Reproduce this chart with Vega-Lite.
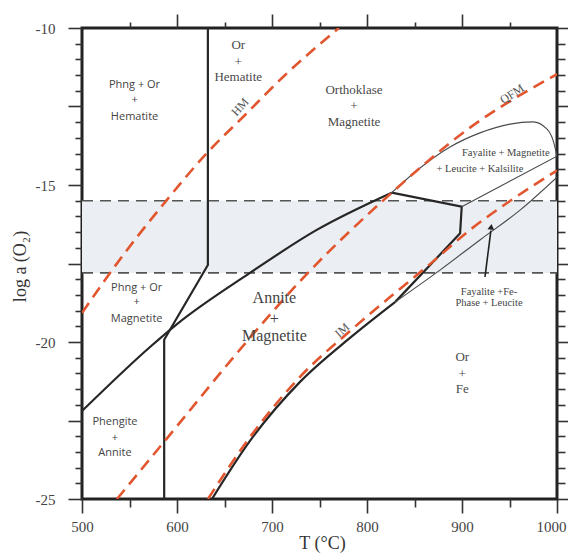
{
  "$schema": "https://vega.github.io/schema/vega-lite/v6.json",
  "width": 475,
  "height": 471,
  "autosize": {"type": "none"},
  "padding": {"left": 82, "top": 28, "right": 11, "bottom": 57},
  "background": "#ffffff",
  "config": {
    "view": {"stroke": "#222222", "strokeWidth": 3},
    "axis": {
      "domain": false, "grid": false, "tickColor": "#333333", "tickWidth": 1.6,
      "labelFont": "Liberation Serif", "labelFontSize": 15, "labelColor": "#444444",
      "titleFont": "Liberation Serif", "titleFontSize": 18, "titleFontWeight": "normal", "titleColor": "#333333",
      "labelOverlap": false, "labelFlush": false
    }
  },
  "datasets": {
    "band": [{"T": 500, "T2": 1000, "v": -15.5, "v2": -17.8}],
    "hdash": [
      {"id": "A", "T": 500, "v": -15.5}, {"id": "A", "T": 1000, "v": -15.5},
      {"id": "B", "T": 500, "v": -17.8}, {"id": "B", "T": 1000, "v": -17.8}
    ],
    "bpoly": [
      {"id": "V", "i": 0, "T": 632.5, "v": -10},
      {"id": "V", "i": 1, "T": 632.5, "v": -17.55},
      {"id": "V", "i": 2, "T": 586.5, "v": -19.93},
      {"id": "V", "i": 3, "T": 586.5, "v": -25},
      {"id": "K", "i": 0, "T": 826.0, "v": -15.245},
      {"id": "K", "i": 1, "T": 899.7, "v": -15.69},
      {"id": "K", "i": 2, "T": 898.0, "v": -16.54},
      {"id": "K", "i": 3, "T": 829.5, "v": -18.73}
    ],
    "bcurve": [
      {"id": "B1", "T": 500, "v": -22.2},
      {"id": "B1", "T": 571.6, "v": -20.16},
      {"id": "B1", "T": 600, "v": -19.43},
      {"id": "B1", "T": 676.8, "v": -17.8},
      {"id": "B1", "T": 747.1, "v": -16.43},
      {"id": "B1", "T": 826.0, "v": -15.245},
      {"id": "B3", "T": 636.8, "v": -25},
      {"id": "B3", "T": 676.8, "v": -23.15},
      {"id": "B3", "T": 729.5, "v": -21.27},
      {"id": "B3", "T": 782.1, "v": -19.87},
      {"id": "B3", "T": 829.5, "v": -18.73}
    ],
    "thin": [
      {"id": "UC", "T": 826.0, "v": -15.245},
      {"id": "UC", "T": 855.8, "v": -14.46},
      {"id": "UC", "T": 887.4, "v": -13.79},
      {"id": "UC", "T": 918.9, "v": -13.34},
      {"id": "UC", "T": 950.5, "v": -13.06},
      {"id": "UC", "T": 974.7, "v": -12.99},
      {"id": "UC", "T": 989.5, "v": -13.22},
      {"id": "UC", "T": 995.8, "v": -13.57},
      {"id": "UC", "T": 1000, "v": -14.08},
      {"id": "UT", "T": 899.7, "v": -15.69},
      {"id": "UT", "T": 1000, "v": -14.08},
      {"id": "LT", "T": 829.5, "v": -18.73},
      {"id": "LT", "T": 876.8, "v": -17.71},
      {"id": "LT", "T": 918.9, "v": -16.75},
      {"id": "LT", "T": 961.1, "v": -15.8},
      {"id": "LT", "T": 1000, "v": -14.75}
    ],
    "red": [
      {"id": "HM", "T": 500, "v": -19.08},
      {"id": "HM", "T": 529.5, "v": -17.8},
      {"id": "HM", "T": 589.2, "v": -15.48},
      {"id": "HM", "T": 631.3, "v": -13.99},
      {"id": "HM", "T": 671.6, "v": -12.77},
      {"id": "HM", "T": 711.6, "v": -11.56},
      {"id": "HM", "T": 770.5, "v": -10.0},
      {"id": "QFM", "T": 536.8, "v": -25.0},
      {"id": "QFM", "T": 600, "v": -22.68},
      {"id": "QFM", "T": 663.2, "v": -20.35},
      {"id": "QFM", "T": 733.7, "v": -17.93},
      {"id": "QFM", "T": 821.1, "v": -15.38},
      {"id": "QFM", "T": 909.5, "v": -13.15},
      {"id": "QFM", "T": 1000, "v": -11.47},
      {"id": "IM", "T": 632.6, "v": -25.0},
      {"id": "IM", "T": 676.8, "v": -23.03},
      {"id": "IM", "T": 729.5, "v": -21.11},
      {"id": "IM", "T": 782.1, "v": -19.65},
      {"id": "IM", "T": 824.2, "v": -18.57},
      {"id": "IM", "T": 866.3, "v": -17.52},
      {"id": "IM", "T": 908.4, "v": -16.43},
      {"id": "IM", "T": 950.5, "v": -15.51},
      {"id": "IM", "T": 1000, "v": -14.54}
    ],
    "arrow": [{"T": 924.2, "v": -17.93, "T2": 930.4, "v2": -16.45}],
    "head": [{"T": 930.7, "v": -16.33}],
    "tsans": [
      {"T": 555.3, "v": -11.82, "text": "Phng + Or"},
      {"T": 555.3, "v": -12.29, "text": "+"},
      {"T": 555.3, "v": -12.83, "text": "Hematite"},
      {"T": 557.5, "v": -18.28, "text": "Phng + Or"},
      {"T": 557.5, "v": -18.73, "text": "+"},
      {"T": 557.5, "v": -19.26, "text": "Magnetite"},
      {"T": 534.7, "v": -22.55, "text": "Phengite"},
      {"T": 534.7, "v": -23.06, "text": "+"},
      {"T": 534.7, "v": -23.54, "text": "Annite"}
    ],
    "tserif": [
      {"T": 664.5, "v": -10.54, "text": "Or"},
      {"T": 664.5, "v": -11.07, "text": "+"},
      {"T": 664.5, "v": -11.57, "text": "Hematite"},
      {"T": 786.3, "v": -11.97, "text": "Orthoklase"},
      {"T": 786.3, "v": -12.48, "text": "+"},
      {"T": 786.3, "v": -12.98, "text": "Magnetite"},
      {"T": 900.3, "v": -20.48, "text": "Or"},
      {"T": 900.3, "v": -21.01, "text": "+"},
      {"T": 900.3, "v": -21.49, "text": "Fe"}
    ],
    "tbig": [
      {"T": 702.5, "v": -18.61, "text": "Annite"},
      {"T": 702.5, "v": -19.28, "text": "+"},
      {"T": 702.5, "v": -19.8, "text": "Magnetite"}
    ],
    "tsmall": [
      {"T": 946.1, "v": -13.99, "text": "Fayalite + Magnetite"},
      {"T": 918.9, "v": -14.49, "text": "+ Leucite + Kalsilite"},
      {"T": 928.4, "v": -18.4, "text": "Fayalite +Fe-"},
      {"T": 928.4, "v": -18.77, "text": "Phase + Leucite"}
    ],
    "thm": [{"T": 666.3, "v": -12.51, "text": "HM"}],
    "tqfm": [{"T": 952.6, "v": -12.1, "text": "QFM"}],
    "tim": [{"T": 773.7, "v": -19.62, "text": "IM"}]
  },
  "encoding": {
    "x": {"field": "T", "type": "quantitative", "scale": {"domain": [500, 1000], "nice": false, "zero": false}, "axis": null},
    "y": {"field": "v", "type": "quantitative", "scale": {"domain": [-25, -10], "nice": false, "zero": false}, "axis": null}
  },
  "layer": [
    {
      "data": {"name": "band"},
      "mark": {"type": "rect", "color": "#ebeef2"},
      "encoding": {
        "x": {"field": "T", "type": "quantitative", "scale": {"domain": [500, 1000], "nice": false, "zero": false},
          "axis": {"orient": "bottom", "values": [500, 600, 700, 800, 900, 1000], "tickSize": 14, "labelPadding": 6,
            "labelExpr": "'' + datum.value",
            "labelOffset": {"condition": {"test": "datum.value === 1000", "value": -6}, "value": 0},
            "title": "T (°C)", "titleX": 240, "titleY": 49, "titleBaseline": "alphabetic", "titleAlign": "center"}},
        "x2": {"field": "T2"},
        "y": {"field": "v", "type": "quantitative", "scale": {"domain": [-25, -10], "nice": false, "zero": false},
          "axis": {"orient": "left", "values": [-25, -22.5, -20, -17.5, -15, -12.5, -10], "tickSize": 14, "labelPadding": 13,
            "labelExpr": "datum.value % 5 === 0 ? '' + datum.value : ''",
            "title": "log a (O₂)", "titleX": -62, "titleY": 238, "titleAngle": -90, "titleAlign": "center", "titleBaseline": "middle"}},
        "y2": {"field": "v2"}
      }
    },
    {
      "data": {"name": "hdash"},
      "mark": {"type": "line", "color": "#555555", "strokeWidth": 1.6, "strokeDash": [11, 7], "clip": true},
      "encoding": {
        "x": {"field": "T", "type": "quantitative", "scale": {"domain": [500, 1000], "nice": false, "zero": false},
          "axis": {"orient": "bottom", "values": [550, 650, 750, 850, 950], "tickSize": 8, "labels": false, "title": null}},
        "y": {"field": "v", "type": "quantitative", "scale": {"domain": [-25, -10], "nice": false, "zero": false},
          "axis": {"orient": "left", "values": [-24.5, -24, -23.5, -23, -22, -21.5, -21, -20.5, -19.5, -19, -18.5, -18, -17, -16.5, -16, -15.5, -14.5, -14, -13.5, -13, -12, -11.5, -11, -10.5], "tickSize": 7, "labels": false, "title": null}},
        "detail": {"field": "id"}
      }
    },
    {
      "data": {"name": "bpoly"},
      "mark": {"type": "line", "color": "#262626", "strokeWidth": 2.2, "clip": true},
      "encoding": {
        "x": {"field": "T", "type": "quantitative", "scale": {"domain": [500, 1000], "nice": false, "zero": false},
          "axis": {"orient": "top", "values": [600, 700, 800, 900], "tickSize": 14, "labels": false, "title": null}},
        "y": {"field": "v", "type": "quantitative", "scale": {"domain": [-25, -10], "nice": false, "zero": false},
          "axis": {"orient": "right", "values": [-25, -22.5, -20, -17.5, -15, -12.5, -10], "tickSize": 11, "labels": false, "title": null}},
        "detail": {"field": "id"},
        "order": {"field": "i"}
      }
    },
    {
      "data": {"name": "bcurve"},
      "mark": {"type": "line", "color": "#262626", "strokeWidth": 2.2, "interpolate": "monotone", "clip": true},
      "encoding": {
        "x": {"field": "T", "type": "quantitative", "scale": {"domain": [500, 1000], "nice": false, "zero": false},
          "axis": {"orient": "top", "values": [550, 650, 750, 850, 950], "tickSize": 6, "labels": false, "title": null}},
        "y": {"field": "v", "type": "quantitative", "scale": {"domain": [-25, -10], "nice": false, "zero": false},
          "axis": {"orient": "right", "values": [-24.5, -24, -23.5, -23, -22, -21.5, -21, -20.5, -19.5, -19, -18.5, -18, -17, -16.5, -16, -15.5, -14.5, -14, -13.5, -13, -12, -11.5, -11, -10.5], "tickSize": 8, "labels": false, "title": null}},
        "detail": {"field": "id"}
      }
    },
    {
      "data": {"name": "thin"},
      "mark": {"type": "line", "color": "#4a4a4a", "strokeWidth": 1.1, "interpolate": "monotone", "clip": true},
      "encoding": {"detail": {"field": "id"}}
    },
    {
      "data": {"name": "red"},
      "mark": {"type": "line", "color": "#e2562f", "strokeWidth": 2.6, "strokeDash": [12, 7], "interpolate": "monotone", "clip": true},
      "encoding": {"detail": {"field": "id"}}
    },
    {
      "data": {"name": "arrow"},
      "mark": {"type": "rule", "color": "#222222", "strokeWidth": 1.6},
      "encoding": {"x2": {"field": "T2"}, "y2": {"field": "v2"}}
    },
    {
      "data": {"name": "head"},
      "mark": {"type": "point", "shape": "triangle-up", "filled": true, "color": "#222222", "size": 45, "angle": 7, "opacity": 1}
    },
    {
      "data": {"name": "tsans"},
      "mark": {"type": "text", "font": "Open Sans", "fontSize": 11, "color": "#444444", "align": "center", "baseline": "middle"},
      "encoding": {"text": {"field": "text"}}
    },
    {
      "data": {"name": "tserif"},
      "mark": {"type": "text", "font": "Liberation Serif", "fontSize": 13, "color": "#4a4a4a", "align": "center", "baseline": "middle"},
      "encoding": {"text": {"field": "text"}}
    },
    {
      "data": {"name": "tbig"},
      "mark": {"type": "text", "font": "Liberation Serif", "fontSize": 16, "color": "#444444", "align": "center", "baseline": "middle"},
      "encoding": {"text": {"field": "text"}}
    },
    {
      "data": {"name": "tsmall"},
      "mark": {"type": "text", "font": "Liberation Serif", "fontSize": 10.5, "color": "#444444", "align": "center", "baseline": "middle"},
      "encoding": {"text": {"field": "text"}}
    },
    {
      "data": {"name": "thm"},
      "mark": {"type": "text", "font": "Liberation Serif", "fontSize": 12, "color": "#555555", "align": "center", "baseline": "middle", "angle": -48},
      "encoding": {"text": {"field": "text"}}
    },
    {
      "data": {"name": "tqfm"},
      "mark": {"type": "text", "font": "Liberation Serif", "fontSize": 12, "color": "#555555", "align": "center", "baseline": "middle", "angle": -33},
      "encoding": {"text": {"field": "text"}}
    },
    {
      "data": {"name": "tim"},
      "mark": {"type": "text", "font": "Liberation Serif", "fontSize": 12, "color": "#555555", "align": "center", "baseline": "middle", "angle": -42},
      "encoding": {"text": {"field": "text"}}
    }
  ],
  "resolve": {"axis": {"x": "independent", "y": "independent"}}
}
